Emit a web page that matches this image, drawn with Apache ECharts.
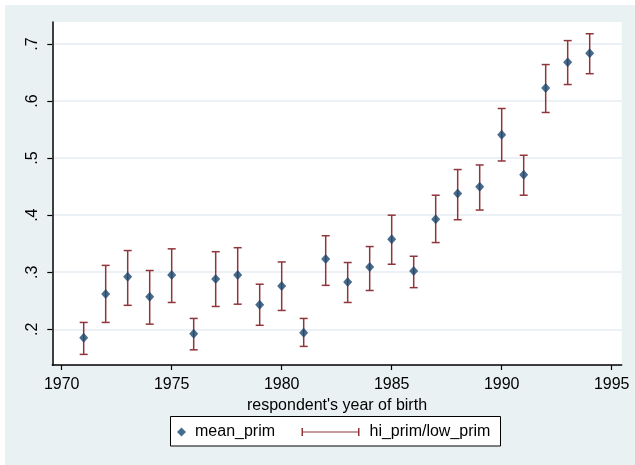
<!DOCTYPE html>
<html>
<head>
<meta charset="utf-8">
<script src="https://cdn.jsdelivr.net/npm/echarts@6/dist/echarts.min.js"></script>
<style>
html,body{margin:0;padding:0;background:#fff;}
#chart{width:635px;height:465px;}
</style>
</head>
<body>
<div id="chart"></div>
<script>
// Data
const years = [1971,1972,1973,1974,1975,1976,1977,1978,1979,1980,1981,1982,1983,1984,1985,1986,1987,1988,1989,1990,1991,1992,1993,1994];
const meanPrim = [0.185,0.262,0.292,0.257,0.295,0.192,0.288,0.295,0.243,0.276,0.194,0.323,0.283,0.309,0.358,0.302,0.393,0.438,0.450,0.541,0.471,0.623,0.668,0.684];
const hiPrim   = [0.212,0.312,0.338,0.303,0.341,0.219,0.336,0.343,0.279,0.318,0.219,0.364,0.317,0.345,0.400,0.328,0.435,0.480,0.488,0.587,0.505,0.664,0.706,0.718];
const lowPrim  = [0.156,0.212,0.242,0.209,0.247,0.164,0.240,0.244,0.207,0.233,0.170,0.277,0.247,0.268,0.314,0.273,0.352,0.392,0.409,0.495,0.435,0.580,0.629,0.648];
const xTicks = [1970,1975,1980,1985,1990,1995];
const yTicks = [0.2,0.3,0.4,0.5,0.6,0.7];

const chart = echarts.init(document.getElementById('chart'), null, {renderer:'canvas'});
const FONT = 'Liberation Sans, Arial, sans-serif';
const NAVY = '#1a476f';
const MAROON = '#90353b';

const scatterData = years.map((y,i)=>[y, meanPrim[i]]);
const barData = years.map((y,i)=>[y, lowPrim[i], hiPrim[i]]);

const option = {
  backgroundColor: '#eaf1f3',
  animation: false,
  graphic: [
    {type:'rect', z:0, shape:{x:0,y:0,width:635,height:5}, style:{fill:'#fff'}},
    {type:'rect', z:0, shape:{x:0,y:0,width:5,height:465}, style:{fill:'#fff'}},
    {type:'rect', z:1, shape:{x:170.5,y:416.5,width:330,height:29.5}, style:{fill:'#fff', stroke:'#000', lineWidth:1}}
  ],
  grid: {left:52.3, right:13.3, top:22, bottom:100, show:true, backgroundColor:'#fff', borderWidth:0},
  xAxis: {
    type:'value', min:1969.573, max:1995.455,
    name:"respondent's year of birth", nameLocation:'middle', nameGap:25,
    nameTextStyle:{fontFamily:FONT, fontSize:16, color:'#000'},
    axisLine:{show:true, onZero:false, lineStyle:{color:'#000', width:1.5}},
    axisTick:{show:true, length:5, customValues:xTicks, lineStyle:{color:'#000', width:1.2}},
    axisLabel:{customValues:xTicks, margin:12, fontFamily:FONT, fontSize:16, color:'#000', formatter:v=>String(Math.round(v))},
    splitLine:{show:false}
  },
  yAxis: {
    type:'value', min:0.1374, max:0.7386,
    axisLine:{show:true, onZero:false, lineStyle:{color:'#000', width:1.5}},
    axisTick:{show:true, length:5, customValues:yTicks, lineStyle:{color:'#000', width:1.2}},
    axisLabel:{customValues:yTicks, rotate:90, margin:12, fontFamily:FONT, fontSize:16, color:'#000',
      formatter:v=>'.'+Math.round(v*10)},
    splitLine:{show:true, lineStyle:{color:'#e4edf0', width:1.5}}
  },
  legend: [
    {data:[{name:'mean_prim', icon:'diamond'}], left:177, top:424, padding:0, itemWidth:9, itemHeight:9,
     textStyle:{fontFamily:FONT, fontSize:16, color:'#000', padding:[0,0,0,4]}, z:5},
    {data:[{name:'hi_prim/low_prim', icon:'path://M0,0L1.5,0L1.5,4.25L56.5,4.25L56.5,0L58,0L58,10L56.5,10L56.5,5.75L1.5,5.75L1.5,10L0,10Z'}],
     left:301.5, top:424, padding:0, itemWidth:58, itemHeight:8, symbolKeepAspect:false,
     textStyle:{fontFamily:FONT, fontSize:16, color:'#000', padding:[0,0,0,5]}, z:5}
  ],
  series: [
    {
      name:'hi_prim/low_prim', type:'custom', data:barData, z:2,
      itemStyle:{color:MAROON},
      encode:{x:0, y:[1,2]},
      renderItem:function(params, api){
        const x = api.value(0);
        const lo = api.coord([x, api.value(1)]);
        const hi = api.coord([x, api.value(2)]);
        const hw = 4;
        const st = {stroke:MAROON, lineWidth:1.5, fill:null};
        return {type:'group', children:[
          {type:'line', shape:{x1:lo[0],y1:lo[1],x2:hi[0],y2:hi[1]}, style:st},
          {type:'line', shape:{x1:lo[0]-hw,y1:lo[1],x2:lo[0]+hw,y2:lo[1]}, style:st},
          {type:'line', shape:{x1:hi[0]-hw,y1:hi[1],x2:hi[0]+hw,y2:hi[1]}, style:st}
        ]};
      }
    },
    {
      name:'mean_prim', type:'scatter', data:scatterData, z:3,
      symbol:'diamond', symbolSize:[9,10],
      itemStyle:{color:NAVY}
    }
  ]
};
chart.setOption(option);
</script>
</body>
</html>
